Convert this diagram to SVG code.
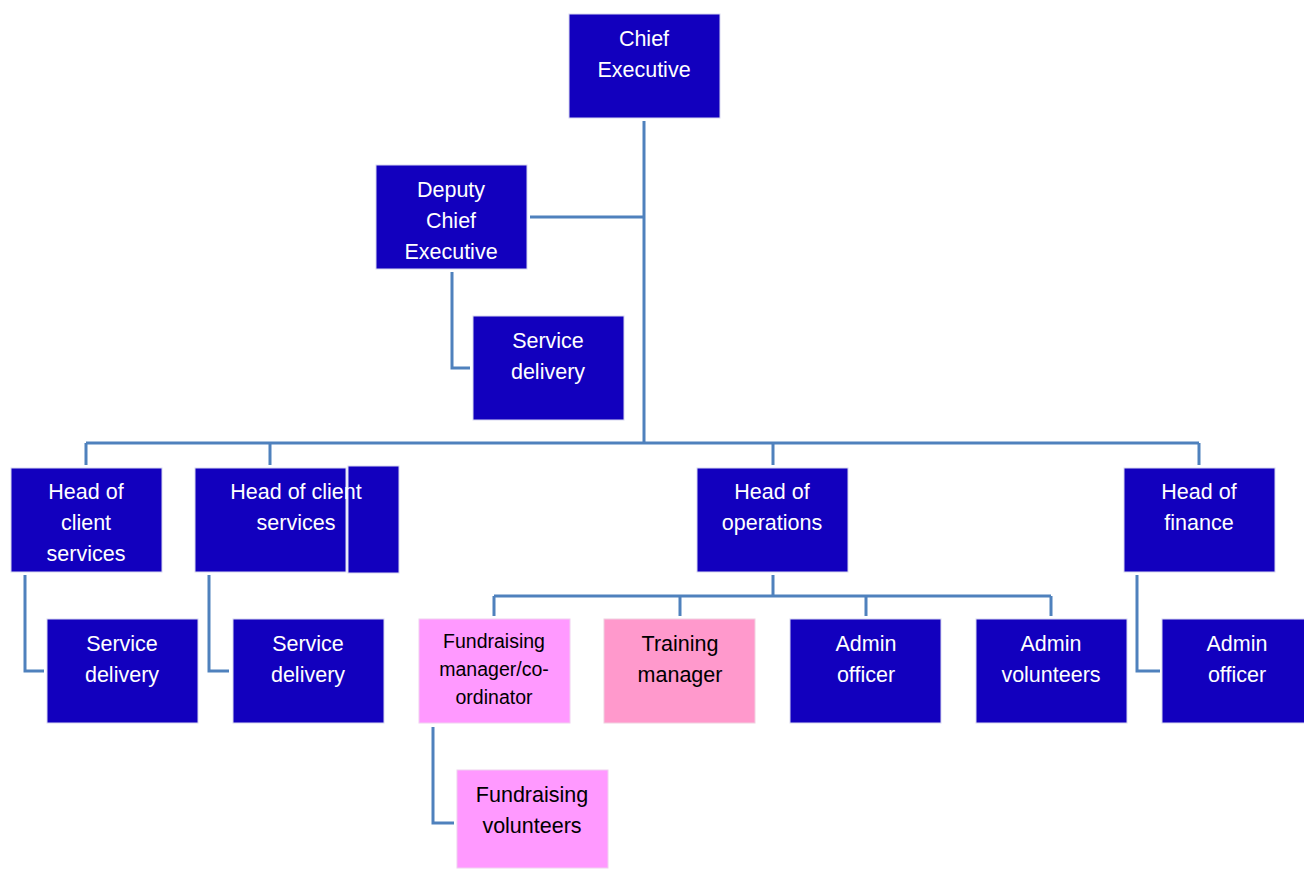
<svg xmlns="http://www.w3.org/2000/svg" width="1304" height="869" viewBox="0 0 1304 869">
<style>
.n{fill:#1200BE;stroke:#d8d8f0;stroke-width:1}
.p{fill:#FF99FF;stroke:#f0d0f0;stroke-width:1}
.q{fill:#FF99CC;stroke:#f0d0e0;stroke-width:1}
text{font-family:"Liberation Sans",Arial,sans-serif;font-size:21.5px;text-anchor:middle}
.w{fill:#ffffff}
.b{fill:#000000}
.s{font-size:19.5px}
.c{fill:none;stroke:#4F81BD;stroke-width:3}
</style>
<rect width="1304" height="869" fill="#ffffff"/>
<g id="connectors">
<path class="c" d="M644 121V443M530 217H644M452 272V368H470M86 443H1199M86 443V465M270 443V465M773 443V465M1199 443V465M773 575V596M494 596H1051M494 596V616M680 596V616M866 596V616M1051 596V616M25 575V671H44M209 575V671H229M1137 575V671H1160M433 727V823H454"/>
</g>
<g id="chief"><rect class="n" x="569" y="14" width="151" height="104"/><text class="w" x="644" y="46">Chief</text><text class="w" x="644" y="77">Executive</text></g>
<g id="deputy"><rect class="n" x="376" y="165" width="151" height="104"/><text class="w" x="451" y="197">Deputy</text><text class="w" x="451" y="228">Chief</text><text class="w" x="451" y="259">Executive</text></g>
<g id="sd0"><rect class="n" x="473" y="316" width="151" height="104"/><text class="w" x="548" y="348">Service</text><text class="w" x="548" y="379">delivery</text></g>
<g id="hcs1"><rect class="n" x="11" y="468" width="151" height="104"/><text class="w" x="86" y="499">Head of</text><text class="w" x="86" y="530">client</text><text class="w" x="86" y="561">services</text></g>
<g id="hcs2"><rect class="n" x="348" y="466" width="51" height="107"/><rect class="n" x="195" y="468" width="151" height="104"/><text class="w" x="296" y="499">Head of client</text><text class="w" x="296" y="530">services</text></g>
<g id="hops"><rect class="n" x="697" y="468" width="151" height="104"/><text class="w" x="772" y="499">Head of</text><text class="w" x="772" y="530">operations</text></g>
<g id="hfin"><rect class="n" x="1124" y="468" width="151" height="104"/><text class="w" x="1199" y="499">Head of</text><text class="w" x="1199" y="530">finance</text></g>
<g id="sd1"><rect class="n" x="47" y="619" width="151" height="104"/><text class="w" x="122" y="651">Service</text><text class="w" x="122" y="682">delivery</text></g>
<g id="sd2"><rect class="n" x="233" y="619" width="151" height="104"/><text class="w" x="308" y="651">Service</text><text class="w" x="308" y="682">delivery</text></g>
<g id="fund"><rect class="p" x="419" y="619" width="151" height="104"/><text class="b s" x="494" y="648">Fundraising</text><text class="b s" x="494" y="676">manager/co-</text><text class="b s" x="494" y="704">ordinator</text></g>
<g id="train"><rect class="q" x="604" y="619" width="151" height="104"/><text class="b" x="680" y="651">Training</text><text class="b" x="680" y="682">manager</text></g>
<g id="admin1"><rect class="n" x="790" y="619" width="151" height="104"/><text class="w" x="866" y="651">Admin</text><text class="w" x="866" y="682">officer</text></g>
<g id="adminv"><rect class="n" x="976" y="619" width="151" height="104"/><text class="w" x="1051" y="651">Admin</text><text class="w" x="1051" y="682">volunteers</text></g>
<g id="admin2"><rect class="n" x="1162" y="619" width="151" height="104"/><text class="w" x="1237" y="651">Admin</text><text class="w" x="1237" y="682">officer</text></g>
<g id="fvol"><rect class="p" x="457" y="770" width="151" height="98"/><text class="b" x="532" y="802">Fundraising</text><text class="b" x="532" y="833">volunteers</text></g>
</svg>
